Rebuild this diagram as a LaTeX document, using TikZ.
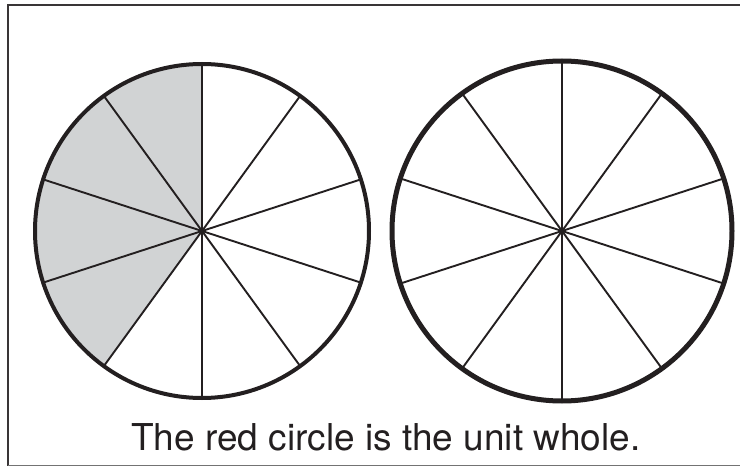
\documentclass[tikz,border=0pt]{standalone}
\usepackage{fontspec}
\setmainfont{TeX Gyre Heros}
\usepackage{xcolor}
\usepackage{tikz}
\definecolor{shadegray}{HTML}{D1D3D4}
\definecolor{inkblack}{HTML}{231F20}

\begin{document}
\begin{tikzpicture}[
    x=1pt, y=1pt,
    frameline/.style={draw=inkblack!90, line width=2pt},
    baseline/.style={draw=black!55, line width=1.5pt},
    rim/.style={draw=inkblack, line width=4pt},
    spoke/.style={draw=inkblack, line width=1.9pt},
    captiontext/.style={font=\fontsize{37}{40}\selectfont, text=inkblack, anchor=base, inner sep=0pt}
  ]
    \useasboundingbox (0,0) rectangle (740,467);
    \coordinate (tl) at (7.5,462);
    \coordinate (tr) at (742,462);
    \coordinate (bl) at (7.5,1.5);
    \coordinate (br) at (742,1.5);
    \coordinate (lc) at (202,236);
    \coordinate (rc) at (562,236);

    % frame
    \draw[frameline] (tr) -- (tl) -- (bl);
    \draw[baseline] (bl) -- (br);

    % shaded sectors
    \fill[shadegray] (lc) -- ++(90:167) arc[start angle=90, end angle=234, radius=167] -- cycle;

    \foreach \a in {90,126,...,414} {
      \draw[spoke] (lc) -- ++(\a:167);
      \draw[spoke] (rc) -- ++(\a:170);
    }
    \draw[rim] (lc) circle[radius=167];
    \draw[rim, line width=5pt] (rc) circle[radius=170];

    \node[captiontext] (caption) at (386,17) {The red circle is the unit whole.};
  \end{tikzpicture}
\end{document}
